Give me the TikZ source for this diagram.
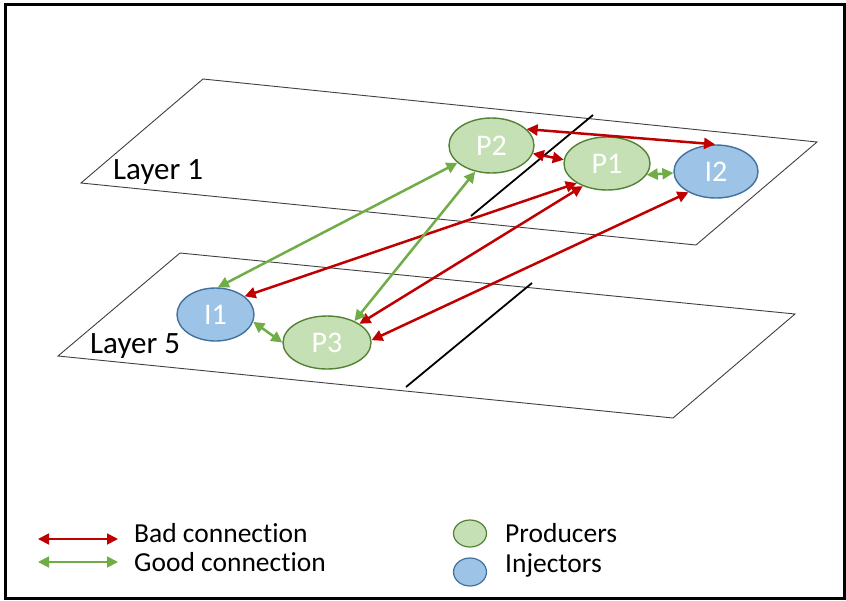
\documentclass[tikz,border=0pt]{standalone}
\usepackage{fontspec}
\setmainfont[Ligatures=NoCommon]{Carlito}
\usetikzlibrary{arrows.meta,shapes.geometric}
\definecolor{badred}{HTML}{C00000}
\definecolor{goodgreen}{HTML}{70AD47}
\definecolor{prodfill}{HTML}{C5E0B4}
\definecolor{proddraw}{HTML}{548235}
\definecolor{injfill}{HTML}{9DC3E6}
\definecolor{injdraw}{HTML}{41719C}
\tikzset{
  plane/.style={draw=black!75, line width=0.9pt},
  cut/.style={draw=black, line width=1.8pt},
  prod/.style={ellipse, draw=proddraw, fill=prodfill, line width=1.4pt, inner sep=0pt,
     text=white, font=\fontsize{30}{36}\selectfont},
  inj/.style={ellipse, draw=injdraw, fill=injfill, line width=1.4pt, inner sep=0pt,
     text=white, font=\fontsize{30}{36}\selectfont},
  bad/.style={draw=badred, line width=2.5pt, {Triangle[length=11pt,width=11pt]}-{Triangle[length=11pt,width=11pt]}},
  good/.style={draw=goodgreen, line width=2.5pt, {Triangle[length=11pt,width=11pt]}-{Triangle[length=11pt,width=11pt]}},
  lbig/.style={anchor=base west, inner sep=0pt, font=\fontsize{31}{36}\selectfont},
  lsmall/.style={anchor=base west, inner sep=0pt, font=\fontsize{27.5}{32}\selectfont},
}
\begin{document}
\begin{tikzpicture}[x=1pt,y=-1pt]
\useasboundingbox (0,0) rectangle (846,600);
\fill[white] (0,0) rectangle (846,600);
\draw[line width=3pt] (5.5,4.5) rectangle (844.5,598.5);
% planes
\draw[plane] (203,79) -- (817,142) -- (696,245) -- (81,183) -- cycle;
\draw[plane] (180,253) -- (795,314) -- (673,418) -- (58,356) -- cycle;
% cut lines
\draw[cut] (593,115) -- (471,216);
\draw[cut] (532,283) -- (406,387);
% labels
\node[lbig] (L1) at (113,179) {Layer 1};
\node[lbig] (L5) at (90,353) {Layer 5};
% nodes
\node[prod, minimum width=85pt, minimum height=55pt] (P2) at (491.5,145.5) {P2};
\node[prod, minimum width=86pt, minimum height=53pt] (P1) at (607,163.5) {P1};
\node[inj, minimum width=84pt, minimum height=53pt] (I2) at (716,171.5) {I2};
\node[inj, minimum width=77pt, minimum height=53pt] (I1) at (215.5,314.5) {I1};
\node[prod, minimum width=88pt, minimum height=53pt] (P3) at (327,342.5) {P3};
% bad connections
\draw[bad] (P2.25) -- (I2.92);
\draw[bad] (P2.-11) -- (P1.175);
\draw[bad] (I1.32) -- (P1.213);
\draw[bad] (P3.30) -- (P1.223);
\draw[bad] (P3.3) -- (I2.217);
% good connections
\draw[good] (P2.207) -- (I1.85);
\draw[good] (P2.238) -- (P3.38);
\draw[good] (P1.-16) -- (I2.182);
\draw[good] (I1.-11) -- (P3.180);
% legend
\coordinate (rb1) at (38,539);
\coordinate (rb2) at (118,539);
\coordinate (gb1) at (38,562);
\coordinate (gb2) at (118,562);
\draw[bad, line width=1.8pt] (rb1) -- (rb2);
\draw[good, line width=1.8pt] (gb1) -- (gb2);
\node[lsmall] (tb) at (134,542) {Bad connection};
\node[lsmall] (tg) at (134,571) {Good connection};
\node[ellipse, draw=proddraw, fill=prodfill, line width=1.2pt, minimum width=33pt, minimum height=27pt, inner sep=0pt] (lp) at (470,533.5) {};
\node[ellipse, draw=injdraw, fill=injfill, line width=1.2pt, minimum width=33pt, minimum height=28pt, inner sep=0pt] (li) at (470,572) {};
\node[lsmall] (tp) at (505,542) {Producers};
\node[lsmall] (ti) at (505,572) {Injectors};
\end{tikzpicture}
\end{document}
